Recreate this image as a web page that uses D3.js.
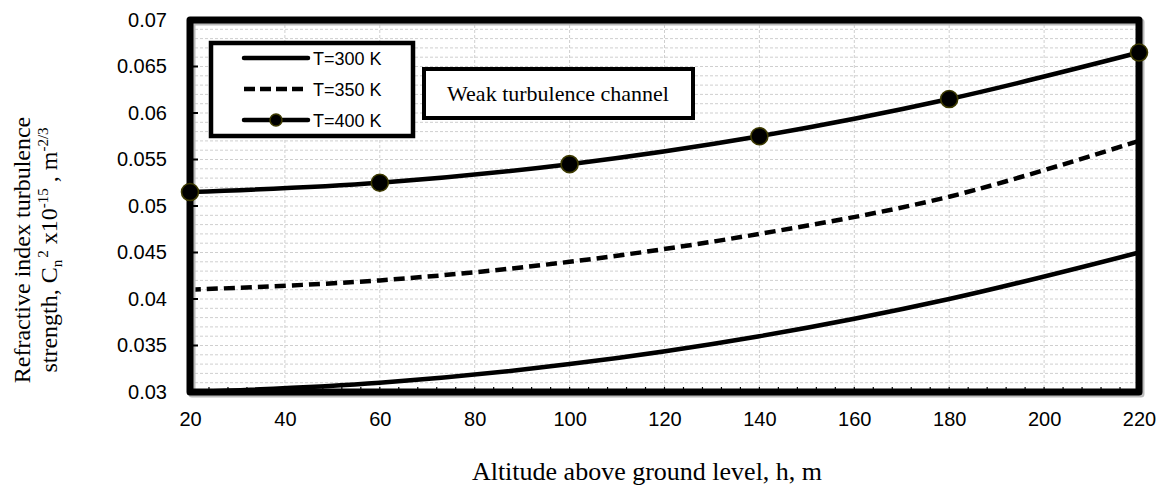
<!DOCTYPE html>
<html><head><meta charset="utf-8">
<script src="https://cdn.jsdelivr.net/npm/d3@7"></script>
<style>html,body{margin:0;padding:0;background:#fff;}svg{display:block;}</style>
</head><body>
<svg id="chart" width="1160" height="486"></svg>
<script>
const altitudes = [20, 60, 100, 140, 180, 220];
const seriesNames = ["T=300 K", "T=350 K", "T=400 K"];
const t300 = [0.030, 0.031, 0.033, 0.036, 0.040, 0.045];
const t350 = [0.041, 0.042, 0.044, 0.047, 0.051, 0.057];
const t400 = [0.0515, 0.0525, 0.0545, 0.0575, 0.0615, 0.0665];
const xTicks = [20, 40, 60, 80, 100, 120, 140, 160, 180, 200, 220];
const yTicks = [0.03, 0.035, 0.04, 0.045, 0.05, 0.055, 0.06, 0.065, 0.07];

const svg = d3.select("#chart");
const L = 190, R = 1139, T = 20, B = 392;
const x = d3.scaleLinear().domain([20, 220]).range([L, R]);
const y = d3.scaleLinear().domain([0.03, 0.07]).range([B, T]);

// grid
const minorY = d3.range(30, 71).map(v => v / 1000);
svg.append("g").selectAll("line").data(minorY).join("line")
  .attr("x1", L).attr("x2", R).attr("y1", d => y(d)).attr("y2", d => y(d))
  .attr("stroke", "#cfcfcf").attr("stroke-width", 1).attr("stroke-dasharray", "3,2");
svg.append("g").selectAll("line").data(xTicks).join("line")
  .attr("x1", d => x(d)).attr("x2", d => x(d)).attr("y1", T).attr("y2", B)
  .attr("stroke", "#cfcfcf").attr("stroke-width", 1).attr("stroke-dasharray", "3,2");

// minor ticks
svg.append("g").selectAll("line").data(minorY).join("line")
  .attr("x1", L).attr("x2", L + 5).attr("y1", d => y(d)).attr("y2", d => y(d))
  .attr("stroke", "#000").attr("stroke-width", 1.2);
const minorX = d3.range(20, 221, 4);
svg.append("g").selectAll("line").data(minorX).join("line")
  .attr("x1", d => x(d)).attr("x2", d => x(d)).attr("y1", B).attr("y2", B - 5)
  .attr("stroke", "#000").attr("stroke-width", 1.2);

// axes labels via d3 axes
const yAxis = svg.append("g").attr("transform", `translate(${L},0)`)
  .call(d3.axisLeft(y).tickValues(yTicks).tickSize(0).tickPadding(23).tickFormat(d => String(+d.toFixed(3))));
yAxis.select(".domain").remove();
yAxis.selectAll("text").attr("font-family", "Liberation Sans, Arial, sans-serif").attr("font-size", 20).attr("fill", "#000");

const xAxis = svg.append("g").attr("transform", `translate(0,${B})`)
  .call(d3.axisBottom(x).tickValues(xTicks).tickSize(0).tickPadding(20).tickFormat(d3.format("d")));
xAxis.select(".domain").remove();
xAxis.selectAll("text").attr("font-family", "Liberation Sans, Arial, sans-serif").attr("font-size", 20).attr("fill", "#000");

// curves
const line = d3.line().x((d, i) => x(altitudes[i])).y(d => y(d)).curve(d3.curveCatmullRom.alpha(0.5));
svg.append("path").datum(t300).attr("d", line).attr("fill", "none").attr("stroke", "#000").attr("stroke-width", 4.5);
svg.append("path").datum(t350).attr("d", line).attr("fill", "none").attr("stroke", "#000").attr("stroke-width", 4.5).attr("stroke-dasharray", "11,6");
svg.append("path").datum(t400).attr("d", line).attr("fill", "none").attr("stroke", "#000").attr("stroke-width", 4.5);

// frame with shadow
svg.append("rect").attr("x", L + 2).attr("y", T + 2).attr("width", R - L).attr("height", B - T)
  .attr("fill", "none").attr("stroke", "#bbb").attr("stroke-width", 7).attr("stroke-linejoin", "round");
svg.append("rect").attr("x", L).attr("y", T).attr("width", R - L).attr("height", B - T)
  .attr("fill", "none").attr("stroke", "#000").attr("stroke-width", 7).attr("stroke-linejoin", "round");

// major y ticks inward
svg.append("g").selectAll("line").data(yTicks).join("line")
  .attr("x1", L).attr("x2", L + 8).attr("y1", d => y(d)).attr("y2", d => y(d))
  .attr("stroke", "#000").attr("stroke-width", 2);

// markers
svg.append("g").selectAll("circle").data(t400).join("circle")
  .attr("cx", (d, i) => x(altitudes[i])).attr("cy", d => y(d)).attr("r", 8.5)
  .attr("fill", "#000").attr("stroke", "#3d3a00").attr("stroke-width", 1.6);

// legend
const lg = svg.append("g");
lg.append("rect").attr("x", 211).attr("y", 43).attr("width", 202).attr("height", 93)
  .attr("fill", "#fff").attr("stroke", "#000").attr("stroke-width", 4.5);
const ly = [58, 89, 120];
seriesNames.forEach((name, i) => {
  const l = lg.append("line").attr("x1", 244).attr("x2", 308).attr("y1", ly[i]).attr("y2", ly[i])
    .attr("stroke", "#000").attr("stroke-width", 4.5).attr("stroke-linecap", "round");
  if (i === 1) l.attr("stroke-dasharray", "11,5").attr("stroke-linecap", "butt");
  if (i === 2) lg.append("circle").attr("cx", 276).attr("cy", ly[i]).attr("r", 6)
    .attr("fill", "#000").attr("stroke", "#3d3a00").attr("stroke-width", 1.5);
  lg.append("text").attr("x", 313).attr("y", ly[i] + 6.5).text(name)
    .attr("font-family", "Liberation Sans, Arial, sans-serif").attr("font-size", 18);
});

// annotation box
svg.append("rect").attr("x", 424).attr("y", 69).attr("width", 269).attr("height", 49)
  .attr("fill", "#fff").attr("stroke", "#000").attr("stroke-width", 4);
svg.append("text").attr("x", 558).attr("y", 101).attr("text-anchor", "middle")
  .attr("font-family", "Liberation Serif, Times New Roman, serif").attr("font-size", 22)
  .text("Weak turbulence channel");

// axis titles
svg.append("text").attr("x", 647).attr("y", 480).attr("text-anchor", "middle")
  .attr("font-family", "Liberation Serif, Times New Roman, serif").attr("font-size", 26)
  .text("Altitude above ground level, h, m");

const yt = svg.append("g").attr("transform", "translate(0,250) rotate(-90)")
  .attr("font-family", "Liberation Serif, Times New Roman, serif").attr("font-size", 24).attr("text-anchor", "middle");
yt.append("text").attr("x", 0).attr("y", 30).text("Refractive index turbulence");
const t2 = yt.append("text").attr("x", 0).attr("y", 57);
t2.append("tspan").text("strength, C");
t2.append("tspan").attr("font-size", 15).attr("dy", 5).text("n");
t2.append("tspan").attr("font-size", 15).attr("dy", -14).attr("dx", 2).text("2");
t2.append("tspan").attr("dy", 9).text(" x10");
t2.append("tspan").attr("font-size", 15).attr("dy", -9).text("-15");
t2.append("tspan").attr("dy", 9).text(" , m");
t2.append("tspan").attr("font-size", 15).attr("dy", -9).text("-2/3");
</script>
</body></html>
